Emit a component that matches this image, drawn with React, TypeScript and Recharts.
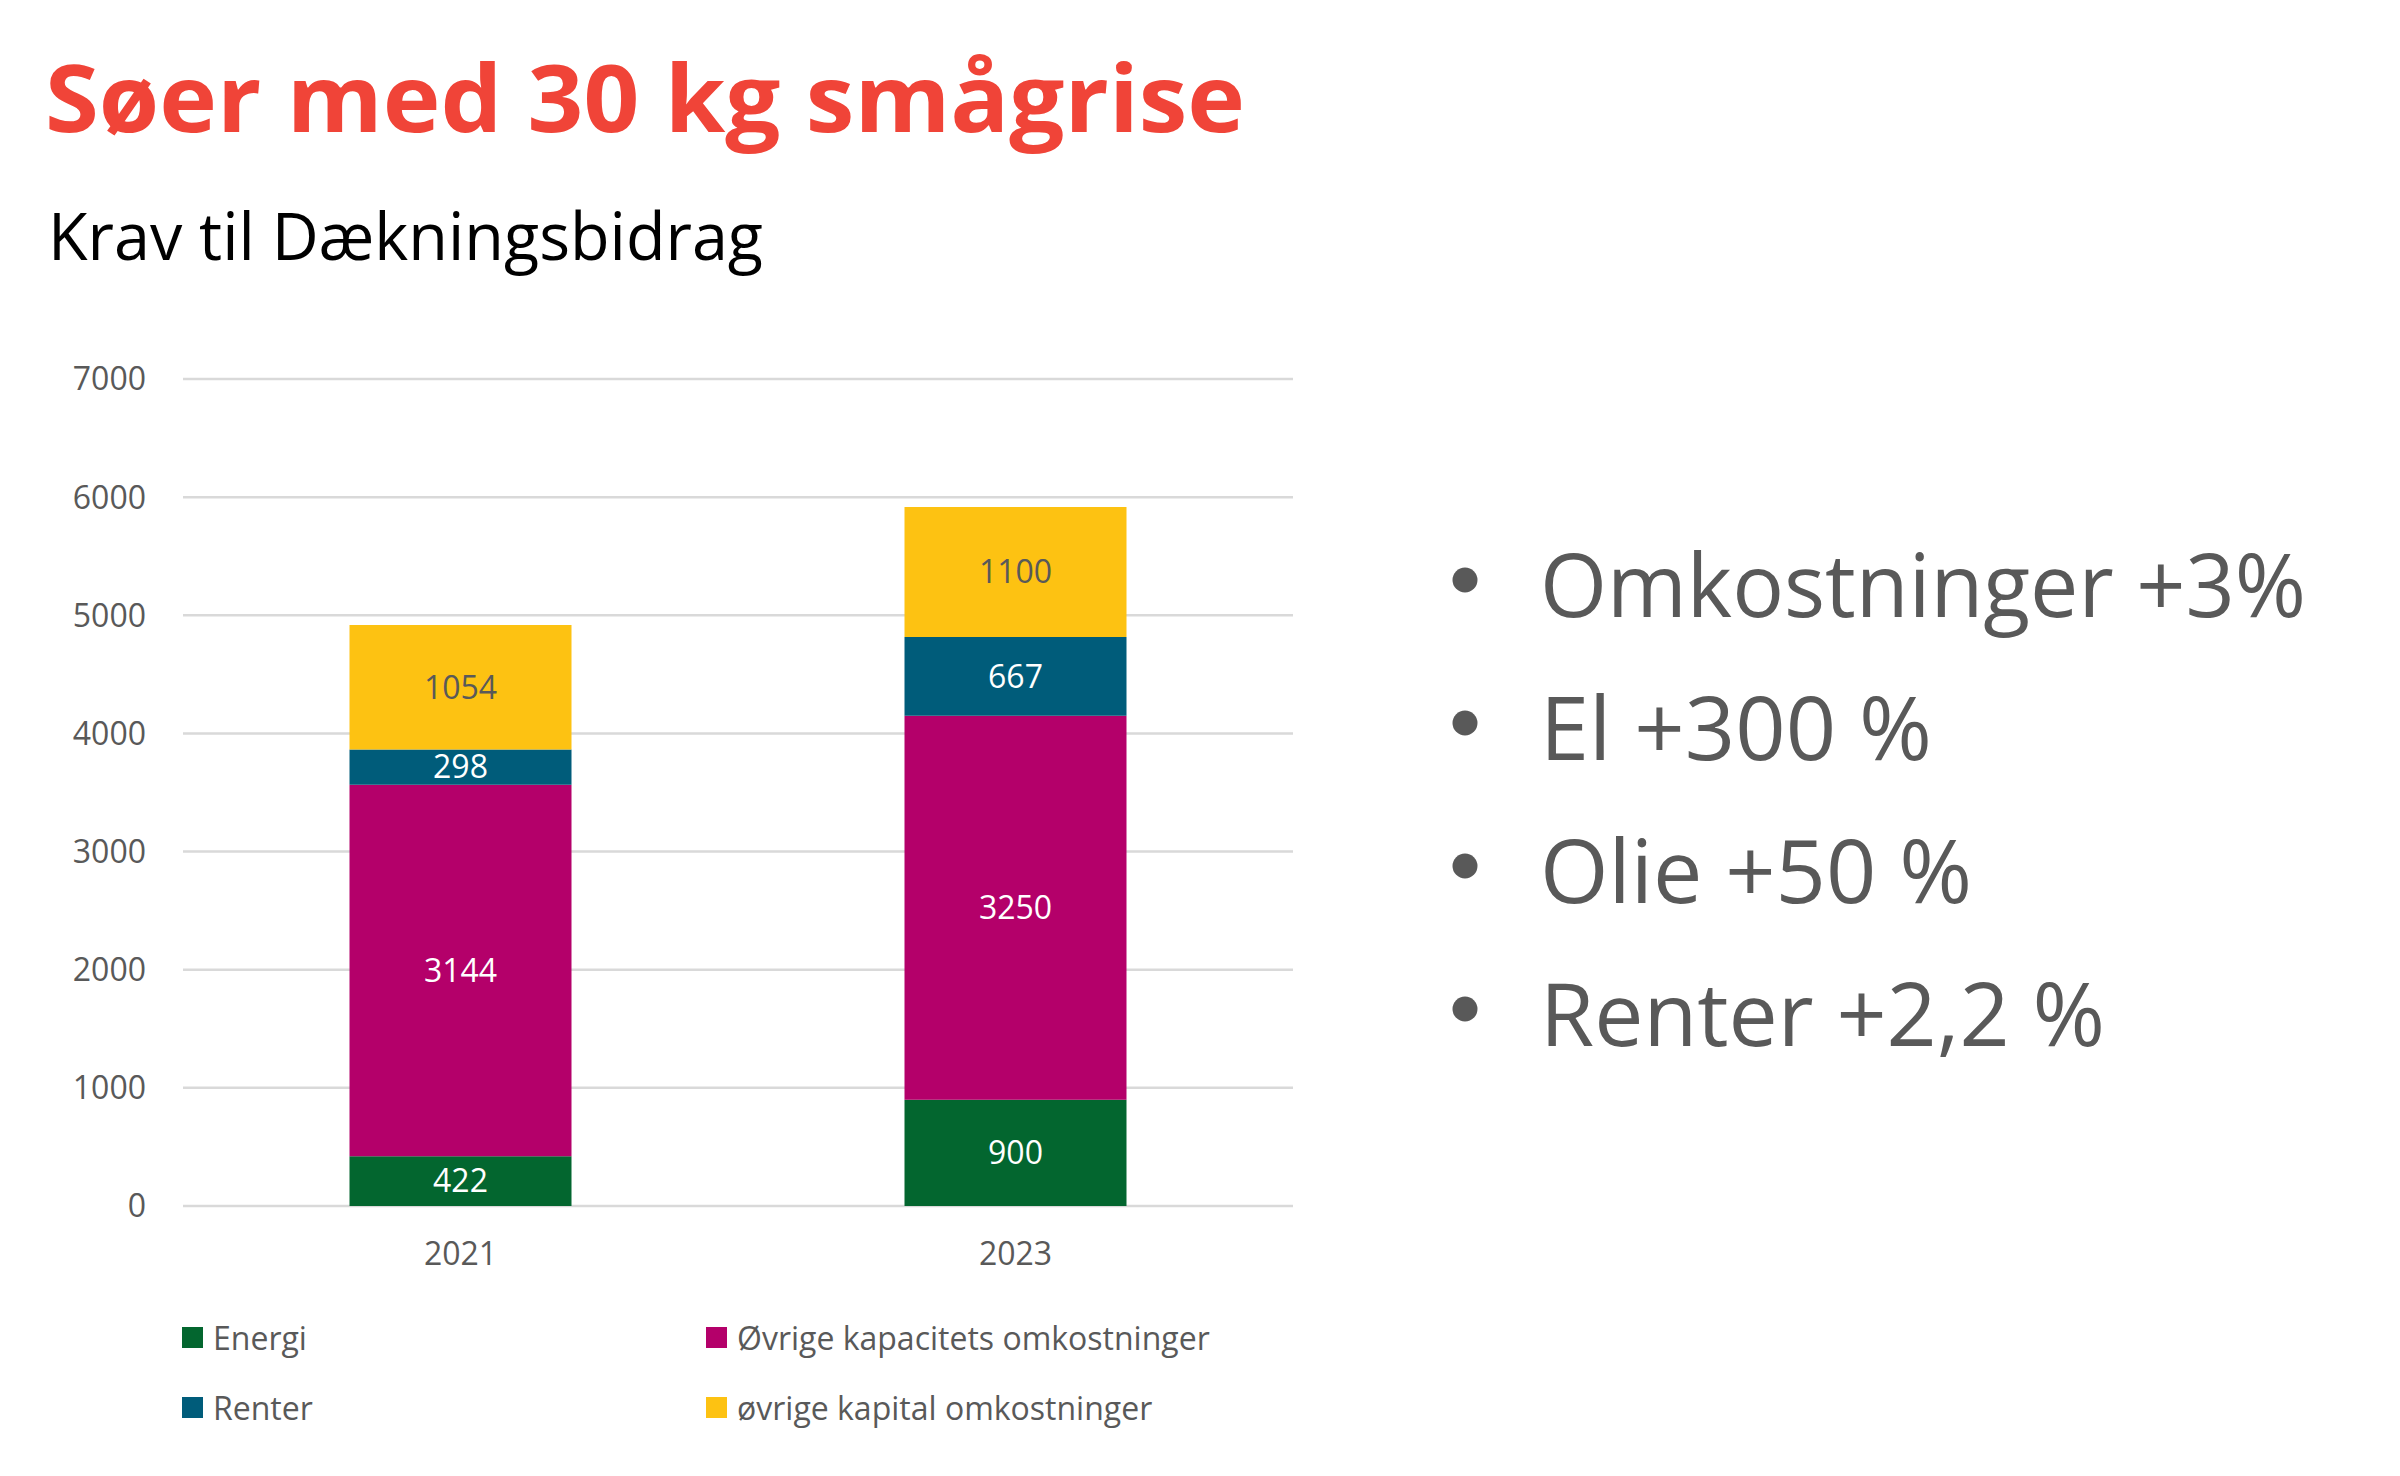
import React from 'react';
import { BarChart, Bar, XAxis, YAxis, CartesianGrid, Legend, LabelList } from 'recharts';

const categories = ['2021', '2023'];
const energi = [422, 900];
const kapacitet = [3144, 3250];
const renter = [298, 667];
const kapital = [1054, 1100];
const yTicks = [0, 1000, 2000, 3000, 4000, 5000, 6000, 7000];

const seriesNames = ['Energi', 'Øvrige kapacitets omkostninger', 'Renter', 'øvrige kapital omkostninger'];
const seriesKeys = ['energi', 'kapacitet', 'renter', 'kapital'];
const seriesColors = ['#03662F', '#B4006A', '#005C7A', '#FDC212'];
const labelColors = ['#FFFFFF', '#FFFFFF', '#FFFFFF', '#595959'];

const title = 'Søer med 30 kg smågrise';
const subtitle = 'Krav til Dækningsbidrag';
const bullets = ['Omkostninger +3%', 'El +300 %', 'Olie +50 %', 'Renter +2,2 %'];
const bulletLengths = [766, 392, 432, 565];

const data = categories.map((c, i) => ({
  year: c,
  energi: energi[i],
  kapacitet: kapacitet[i],
  renter: renter[i],
  kapital: kapital[i],
}));

const FONT = "'Open Sans', sans-serif";

const LegendContent = (props: any) => {
  const payload = props.payload || [];
  return (
    <div style={{ position: 'relative', width: 1400, height: 120 }}>
      {payload.map((p: any) => {
        const idx = seriesKeys.indexOf(p.dataKey);
        const i = idx >= 0 ? idx : seriesNames.indexOf(p.value);
        return (
          <div
            key={p.value}
            style={{
              position: 'absolute',
              left: i % 2 === 0 ? 182 : 706,
              top: Math.floor(i / 2) * 70,
              height: 44,
              display: 'flex',
              alignItems: 'center',
              fontFamily: FONT,
              fontSize: 32,
              color: '#595959',
              whiteSpace: 'nowrap',
            }}
          >
            <span style={{ display: 'inline-block', width: 21, height: 21, background: p.color, marginRight: 10 }} />
            <span>{p.value}</span>
          </div>
        );
      })}
    </div>
  );
};

export default function App() {
  return (
    <div style={{ position: 'absolute', left: 0, top: 0, width: 2400, height: 1476, background: '#FFFFFF', overflow: 'hidden' }}>
      <div style={{ position: 'absolute', left: 0, top: 0 }}>
        <BarChart
          width={1400}
          height={1476}
          data={data}
          margin={{ top: 379, right: 107, left: 0, bottom: 210 }}
          barCategoryGap="30%"
          style={{ fontFamily: FONT }}
        >
          <CartesianGrid vertical={false} stroke="#D9D9D9" strokeWidth={2.5} />
          <XAxis
            dataKey="year"
            axisLine={false}
            tickLine={false}
            tickSize={0}
            tickMargin={36}
            height={60}
            tick={{ fill: '#595959', fontSize: 32, fontFamily: FONT }}
          />
          <YAxis
            domain={[0, 7000]}
            ticks={yTicks}
            axisLine={false}
            tickLine={false}
            tickSize={0}
            tickMargin={37}
            width={183}
            tick={{ fill: '#595959', fontSize: 32, fontFamily: FONT }}
          />
          {seriesKeys.map((k, i) => (
            <Bar key={k} dataKey={k} name={seriesNames[i]} stackId="a" fill={seriesColors[i]} isAnimationActive={false}>
              <LabelList dataKey={k} position="center" fill={labelColors[i]} style={{ fontSize: 32, fontFamily: FONT }} />
            </Bar>
          ))}
          <Legend
            layout="vertical"
            align="center"
            verticalAlign="middle"
            content={<LegendContent />}
            wrapperStyle={{ left: 0, top: 1315, width: 1400, height: 120 }}
          />
        </BarChart>
      </div>
      <svg width={2400} height={1476} style={{ position: 'absolute', left: 0, top: 0, pointerEvents: 'none' }}>
        <text x={45} y={132} fontFamily={FONT} fontWeight={700} fontSize={94} fill="#F04438" textLength={1200} lengthAdjust="spacingAndGlyphs">
          {title}
        </text>
        <text x={48} y={260} fontFamily={FONT} fontSize={66} fill="#000000" textLength={715} lengthAdjust="spacingAndGlyphs">
          {subtitle}
        </text>
        {bullets.map((b, i) => (
          <g key={i}>
            <circle cx={1465} cy={580 + i * 143} r={12.5} fill="#595959" />
            <text x={1540} y={617 + i * 143} fontFamily={FONT} fontSize={88} fill="#595959" textLength={bulletLengths[i]} lengthAdjust="spacingAndGlyphs">
              {b}
            </text>
          </g>
        ))}
      </svg>
    </div>
  );
}
